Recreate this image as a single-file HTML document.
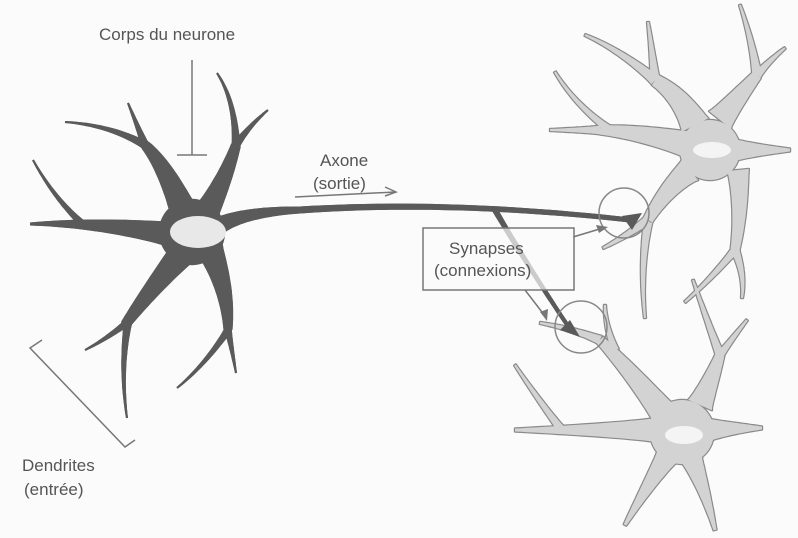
<!DOCTYPE html>
<html><head><meta charset="utf-8"><style>
html,body{margin:0;padding:0;background:#fbfbfb;}
svg{display:block}
text{font-family:"Liberation Sans",sans-serif;fill:#555;font-size:17px}
</style></head><body>
<svg id="s" width="798" height="538" viewBox="0 0 798 538">
<rect width="798" height="538" fill="#fbfbfb"/>
<g id="lo"></g><g id="lf"></g>
<ellipse cx="712" cy="150" rx="19" ry="8" fill="#f4f4f4"/>
<ellipse cx="684" cy="435" rx="19" ry="9" fill="#f4f4f4"/>
<g id="mo"></g><g id="mf"></g>
<path d="M622 216 L642 213 L632 230 Z" fill="#5a5a5a"/>
<path d="M560 330 L580 337 L570 320 Z" fill="#5a5a5a"/>
<ellipse cx="198" cy="232" rx="28" ry="16" fill="#e8e8e8"/>
<circle cx="624" cy="213" r="25" fill="none" stroke="#888" stroke-width="1.5"/>
<circle cx="581" cy="327" r="26" fill="none" stroke="#888" stroke-width="1.5"/>
<g stroke="#777" stroke-width="1.5" fill="none">
 <line x1="192" y1="60" x2="192" y2="155"/><line x1="177" y1="155" x2="207" y2="155"/>
 <line x1="295" y1="197" x2="395" y2="192"/><path d="M385 187 L396 192 L385 196"/>
 <path d="M42 340 L30 348 L125 447 L135 440"/>
 <line x1="573" y1="237" x2="603" y2="228"/>
 <line x1="525" y1="290" x2="545" y2="316"/>
</g>
<path d="M596 225 L608 227 L599 233Z" fill="#777"/>
<path d="M540 312 L547 321 L548 309Z" fill="#777"/>
<rect x="423" y="228" width="151" height="62" fill="#fbfbfb" fill-opacity="0.7" stroke="#777" stroke-width="1.5"/>
<text x="449" y="254">Synapses</text>
<text x="434" y="276">(connexions)</text>
<text x="99" y="40">Corps du neurone</text>
<text x="320" y="166">Axone</text>
<text x="313" y="189">(sortie)</text>
<text x="22" y="471">Dendrites</text>
<text x="24" y="495">(entrée)</text>
</svg>
<script>
var NS="http://www.w3.org/2000/svg";
function poly(b){var x0=b[0],y0=b[1],cx=b[2],cy=b[3],x1=b[4],y1=b[5],w0=b[6],w1=b[7];
var L=[],R=[];for(var i=0;i<=24;i++){var t=i/24,u=1-t;
var x=u*u*x0+2*u*t*cx+t*t*x1,y=u*u*y0+2*u*t*cy+t*t*y1;
var dx=2*u*(cx-x0)+2*t*(x1-cx),dy=2*u*(cy-y0)+2*t*(y1-cy);var l=Math.hypot(dx,dy)||1;
var nx=-dy/l,ny=dx/l,w=(w0+(w1-w0)*Math.pow(t,0.7))/2;
L.push((x+nx*w).toFixed(1)+","+(y+ny*w).toFixed(1));R.unshift((x-nx*w).toFixed(1)+","+(y-ny*w).toFixed(1));}
return L.concat(R).join(" ");}
function draw(list,circ,go,gf,fill,stroke){
list.forEach(function(b){var p=poly(b);
var a=document.createElementNS(NS,"polygon");a.setAttribute("points",p);a.setAttribute("fill",stroke);a.setAttribute("stroke",stroke);a.setAttribute("stroke-width",stroke==fill?0:2.4);a.setAttribute("stroke-linejoin","round");go.appendChild(a);
var c=document.createElementNS(NS,"polygon");c.setAttribute("points",p);c.setAttribute("fill",fill);gf.appendChild(c);});
circ.forEach(function(c){[[go,stroke,c[2]+1.2],[gf,fill,c[2]]].forEach(function(q){var e=document.createElementNS(NS,"circle");e.setAttribute("cx",c[0]);e.setAttribute("cy",c[1]);e.setAttribute("r",q[2]);e.setAttribute("fill",q[1]);q[0].appendChild(e);});});}
var g=function(id){return document.getElementById(id)};
var main=[
[185,215,165,165,145,145,30,10],[145,145,137,125,128,103,9,2],[145,145,110,125,65,122,9,2],
[175,235,100,222,30,224,28,3],[85,226,55,200,33,160,8,2],
[205,215,225,180,236,145,28,10],[236,145,235,100,217,73,9,2],[236,145,250,125,268,110,9,2],
[185,250,150,290,125,325,30,10],[128,322,105,340,85,350,8,2],[128,322,120,370,127,418,9,2],
[210,250,228,290,228,330,28,9],[228,330,232,350,236,373,8,2],[228,330,205,365,177,388,8,2],
[215,228,240,212,300,210,20,7],[300,210,450,200,630,220,7,5],
[495,210,530,270,572,332,6,4]];
draw(main,[[192,232,32]],g("mo"),g("mf"),"#5a5a5a","#5a5a5a");
var light=[
[695,125,680,95,655,80,30,12],[655,80,620,50,585,35,11,2],[655,80,652,50,648,22,10,2],
[690,145,640,132,600,130,28,9],[600,130,575,130,550,130,9,2],[610,130,575,105,555,72,8,2],
[720,120,740,95,757,75,28,10],[757,75,752,40,740,5,10,2],[757,75,770,60,785,48,9,2],
[730,150,760,150,790,150,26,3],
[738,170,742,210,735,250,22,9],[735,250,745,275,742,298,9,2],[735,250,710,280,685,302,8,2],
[690,170,665,190,648,220,26,10],[648,220,625,237,603,248,10,2],[648,222,640,270,645,318,9,2],
[665,415,630,370,600,340,28,9],[600,340,570,328,540,323,9,2],[615,350,605,325,605,305,8,2],
[660,430,590,430,515,430,26,3],[560,428,535,395,515,365,8,2],
[700,405,712,378,720,355,26,9],[720,355,705,315,693,280,9,2],[720,355,735,335,747,320,8,2],
[705,430,735,428,762,428,26,3],
[668,455,645,490,625,525,24,3],[690,455,705,490,715,530,24,3]];
draw(light,[[710,150,30],[682,432,32]],g("lo"),g("lf"),"#d3d3d3","#8a8a8a");
</script>
</body></html>
